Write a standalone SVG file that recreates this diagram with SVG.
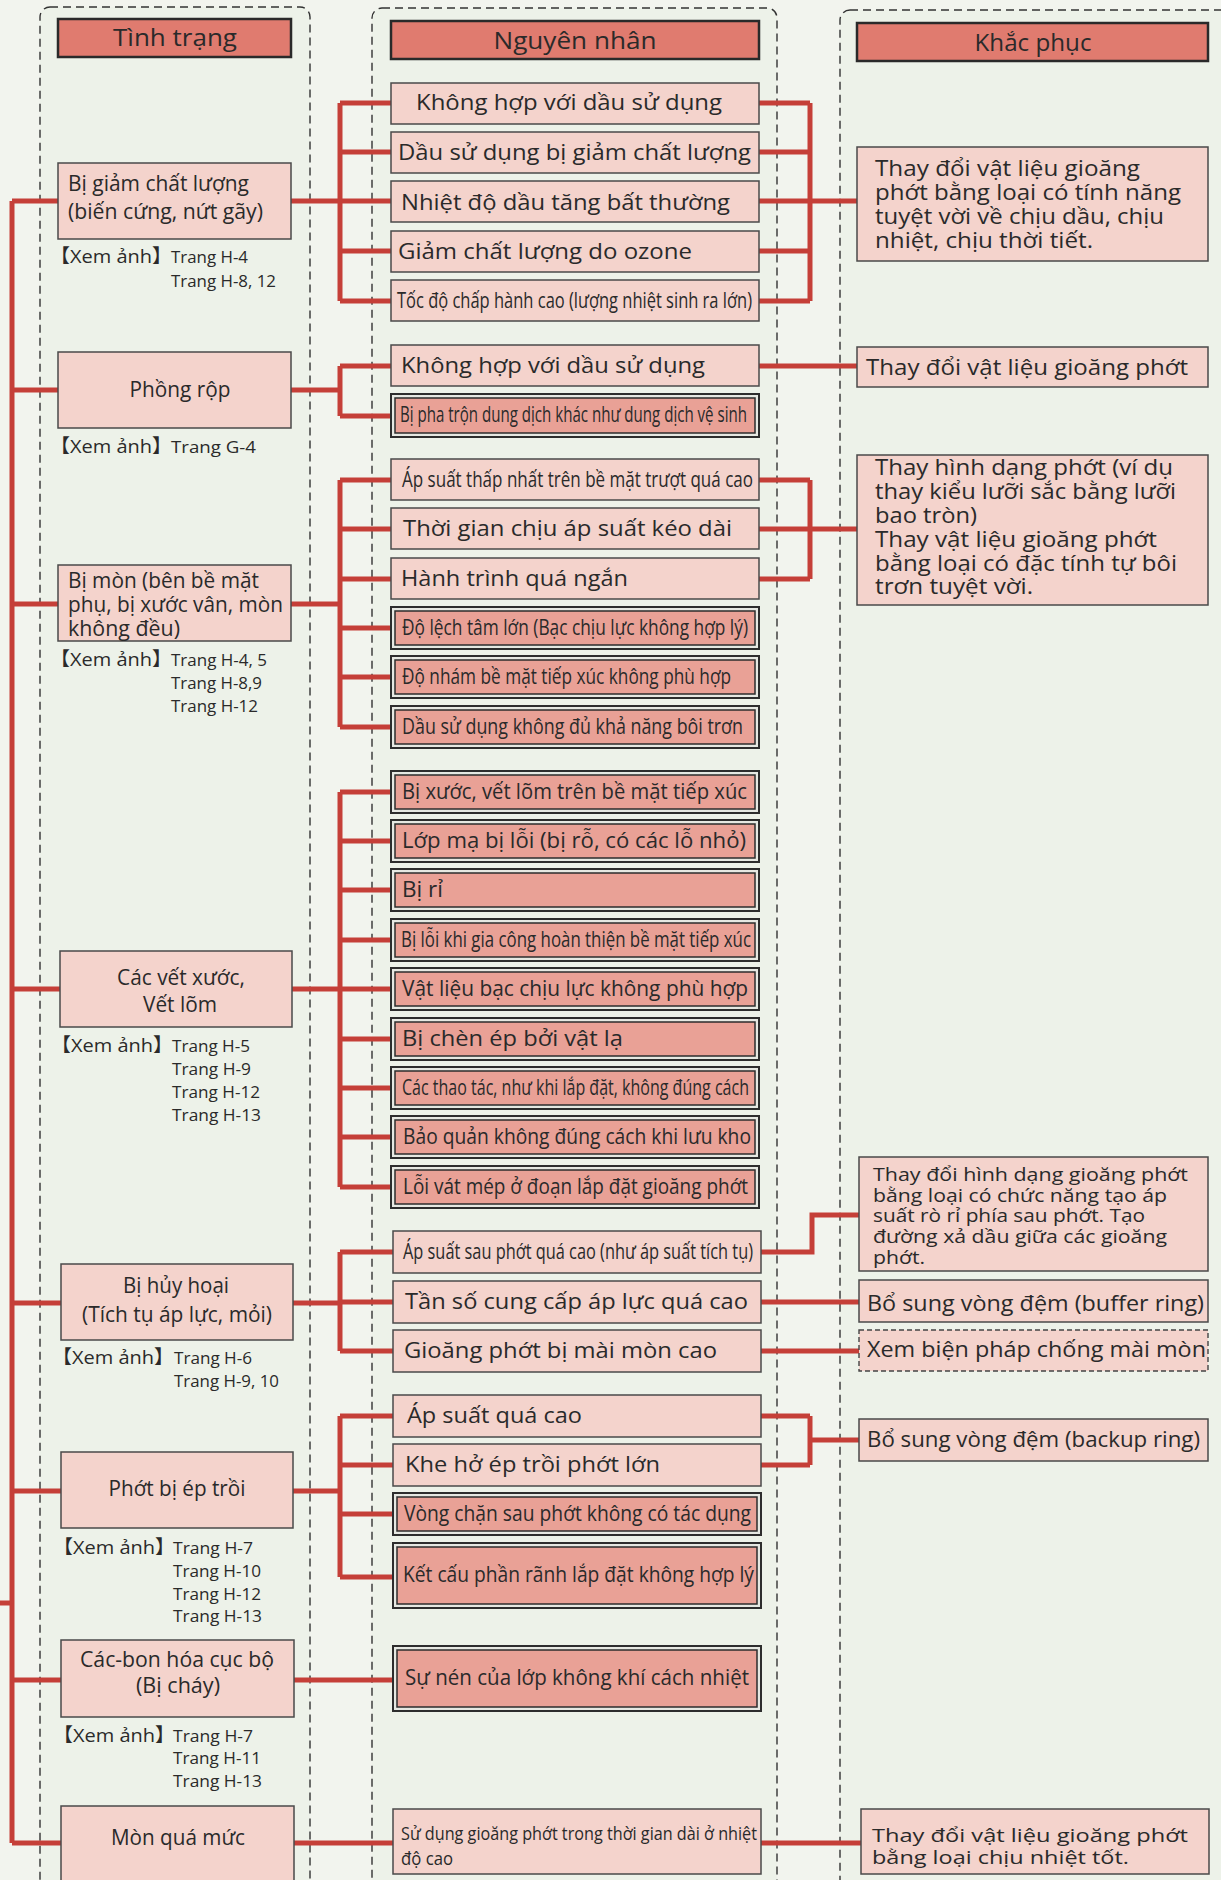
<svg xmlns="http://www.w3.org/2000/svg" width="1221" height="1880" viewBox="0 0 1221 1880">
<style>
.bg{fill:#f2f4ee}
.col{fill:#edf2e9;stroke:#333;stroke-width:1.4;stroke-dasharray:8 5}
.hdr{fill:#e07b6f;stroke:#2a2a2a;stroke-width:2.5}
.ht{font-family:"Open Sans","Liberation Sans",sans-serif;font-size:23px;fill:#2a2a2a;text-anchor:middle}
.nd{fill:#f4d3cc;stroke:#4a4a4a;stroke-width:1.5}
.dash{fill:#f4d3cc;stroke:#444;stroke-width:1.4;stroke-dasharray:5 3}
.dbo{fill:#e6e8e2;stroke:#2d2d2d;stroke-width:2}
.dbi{fill:#e9a196;stroke:#2d2d2d;stroke-width:1.5}
.t{font-family:"Open Sans","Noto Sans","Liberation Sans",sans-serif;font-size:21px;fill:#2a2a2a}
.tc{text-anchor:middle}
.s19{font-size:19px}
.s18{font-size:18px}
.s22{font-size:22px}
.r{font-family:"Open Sans","Noto Sans","Noto Sans CJK JP",sans-serif;font-size:19px;fill:#2a2a2a}
.rt{font-family:"Open Sans","Noto Sans",sans-serif;font-size:17px;fill:#2a2a2a}
.c{fill:none;stroke:#c53f38;stroke-width:5;stroke-linejoin:miter}
</style>
<rect class="bg" x="0" y="0" width="1221" height="1880"/>
<g id="columns">
<rect class="col" x="40" y="7" width="270" height="1900" rx="10"/>
<rect class="col" x="372" y="8" width="405" height="1900" rx="10"/>
<rect class="col" x="840" y="10" width="420" height="1900" rx="10"/>
</g>
<g id="headers">
<g id="h-tinh-trang"><rect class="hdr" x="58" y="19" width="233" height="38"/><text class="ht" x="175" y="46" textLength="124" lengthAdjust="spacingAndGlyphs">Tình trạng</text></g>
<g id="h-nguyen-nhan"><rect class="hdr" x="391" y="21" width="368" height="38"/><text class="ht" x="575" y="49" textLength="163" lengthAdjust="spacingAndGlyphs">Nguyên nhân</text></g>
<g id="h-khac-phuc"><rect class="hdr" x="857" y="23" width="351" height="38"/><text class="ht" x="1033" y="51" textLength="117" lengthAdjust="spacingAndGlyphs">Khắc phục</text></g>
</g>
<g id="connectors">
<path class="c" d="M12,201 V1843 M0,1603 H12"/>
<path class="c" d="M12,201 H58 M12,390 H58 M12,604 H58 M12,989 H60 M12,1303 H61 M12,1491 H61 M12,1680 H61 M12,1843 H61"/>
<path class="c" d="M291,201 H340 M340,103 V301 M340,103 H391 M340,152 H391 M340,201 H391 M340,251 H391 M340,301 H391"/>
<path class="c" d="M759,103 H810 M759,152 H810 M759,201 H810 M759,251 H810 M759,301 H810 M810,103 V301 M810,201 H857"/>
<path class="c" d="M291,390 H340 M340,366 V416 M340,366 H391 M340,416 H391 M759,366 H857"/>
<path class="c" d="M291,604 H340 M340,480 V727 M340,480 H391 M340,529 H391 M340,579 H391 M340,628 H391 M340,677 H391 M340,727 H391"/>
<path class="c" d="M759,480 H810 M759,529 H810 M759,579 H810 M810,480 V579 M810,529 H857"/>
<path class="c" d="M292,989 H340 M340,792 V1187 M340,792 H391 M340,841 H391 M340,890 H391 M340,940 H391 M340,989 H391 M340,1039 H391 M340,1088 H391 M340,1137 H391 M340,1187 H391"/>
<path class="c" d="M293,1303 H340 M340,1252 V1351 M340,1252 H393 M340,1302 H393 M340,1351 H393"/>
<path class="c" d="M761,1252 H812 V1215 H859 M761,1302 H859 M761,1351 H859"/>
<path class="c" d="M293,1491 H340 M340,1416 V1577 M340,1416 H393 M340,1465 H393 M340,1514 H393 M340,1577 H393"/>
<path class="c" d="M761,1416 H810 M761,1465 H810 M810,1416 V1465 M810,1440 H859"/>
<path class="c" d="M294,1680 H393 M294,1843 H393 M761,1843 H861"/>
</g>
<g id="n-giam-chat-luong"><rect class="nd" x="58" y="163" width="233" height="76"/>
<text class="t" x="68" y="191" textLength="181" lengthAdjust="spacingAndGlyphs">Bị giảm chất lượng</text>
<text class="t" x="68" y="219" textLength="195" lengthAdjust="spacingAndGlyphs">(biến cứng, nứt gãy)</text>
<text class="r" x="50" y="263" textLength="122" lengthAdjust="spacingAndGlyphs">【Xem ảnh】</text>
<text class="rt" x="171" y="263" textLength="77" lengthAdjust="spacingAndGlyphs">Trang H-4</text>
<text class="rt" x="171" y="287" textLength="105" lengthAdjust="spacingAndGlyphs">Trang H-8, 12</text></g>
<g id="n-phong-rop"><rect class="nd" x="58" y="352" width="233" height="76"/>
<text class="t tc" x="180" y="397" textLength="101" lengthAdjust="spacingAndGlyphs">Phồng rộp</text>
<text class="r" x="50" y="453" textLength="122" lengthAdjust="spacingAndGlyphs">【Xem ảnh】</text>
<text class="rt" x="171" y="453" textLength="85" lengthAdjust="spacingAndGlyphs">Trang G-4</text></g>
<g id="n-bi-mon"><rect class="nd" x="58" y="565" width="233" height="76"/>
<text class="t" x="68" y="588" textLength="191" lengthAdjust="spacingAndGlyphs">Bị mòn (bên bề mặt</text>
<text class="t" x="68" y="612" textLength="215" lengthAdjust="spacingAndGlyphs">phụ, bị xước vân, mòn</text>
<text class="t" x="68" y="636" textLength="112" lengthAdjust="spacingAndGlyphs">không đều)</text>
<text class="r" x="50" y="666" textLength="122" lengthAdjust="spacingAndGlyphs">【Xem ảnh】</text>
<text class="rt" x="171" y="666" textLength="96" lengthAdjust="spacingAndGlyphs">Trang H-4, 5</text>
<text class="rt" x="171" y="689" textLength="91" lengthAdjust="spacingAndGlyphs">Trang H-8,9</text>
<text class="rt" x="171" y="712" textLength="87" lengthAdjust="spacingAndGlyphs">Trang H-12</text></g>
<g id="n-vet-xuoc"><rect class="nd" x="60" y="951" width="232" height="76"/>
<text class="t tc" x="181" y="985" textLength="128" lengthAdjust="spacingAndGlyphs">Các vết xước,</text>
<text class="t tc" x="180" y="1012" textLength="74" lengthAdjust="spacingAndGlyphs">Vết lõm</text>
<text class="r" x="51" y="1052" textLength="122" lengthAdjust="spacingAndGlyphs">【Xem ảnh】</text>
<text class="rt" x="172" y="1052" textLength="78" lengthAdjust="spacingAndGlyphs">Trang H-5</text>
<text class="rt" x="172" y="1075" textLength="79" lengthAdjust="spacingAndGlyphs">Trang H-9</text>
<text class="rt" x="172" y="1098" textLength="88" lengthAdjust="spacingAndGlyphs">Trang H-12</text>
<text class="rt" x="172" y="1121" textLength="89" lengthAdjust="spacingAndGlyphs">Trang H-13</text></g>
<g id="n-huy-hoai"><rect class="nd" x="61" y="1264" width="232" height="76"/>
<text class="t tc" x="176" y="1293" textLength="106" lengthAdjust="spacingAndGlyphs">Bị hủy hoại</text>
<text class="t tc" x="177" y="1322" textLength="190" lengthAdjust="spacingAndGlyphs">(Tích tụ áp lực, mỏi)</text>
<text class="r" x="52" y="1364" textLength="122" lengthAdjust="spacingAndGlyphs">【Xem ảnh】</text>
<text class="rt" x="174" y="1364" textLength="78" lengthAdjust="spacingAndGlyphs">Trang H-6</text>
<text class="rt" x="174" y="1387" textLength="105" lengthAdjust="spacingAndGlyphs">Trang H-9, 10</text></g>
<g id="n-ep-troi"><rect class="nd" x="61" y="1452" width="232" height="76"/>
<text class="t tc" x="177" y="1496" textLength="137" lengthAdjust="spacingAndGlyphs">Phớt bị ép trồi</text>
<text class="r" x="53" y="1554" textLength="122" lengthAdjust="spacingAndGlyphs">【Xem ảnh】</text>
<text class="rt" x="173" y="1554" textLength="80" lengthAdjust="spacingAndGlyphs">Trang H-7</text>
<text class="rt" x="173" y="1577" textLength="88" lengthAdjust="spacingAndGlyphs">Trang H-10</text>
<text class="rt" x="173" y="1600" textLength="88" lengthAdjust="spacingAndGlyphs">Trang H-12</text>
<text class="rt" x="173" y="1622" textLength="89" lengthAdjust="spacingAndGlyphs">Trang H-13</text></g>
<g id="n-cacbon-hoa"><rect class="nd" x="61" y="1640" width="233" height="77"/>
<text class="t tc" x="177" y="1667" textLength="194" lengthAdjust="spacingAndGlyphs">Các-bon hóa cục bộ</text>
<text class="t tc" x="178" y="1693" textLength="84" lengthAdjust="spacingAndGlyphs">(Bị cháy)</text>
<text class="r" x="53" y="1742" textLength="122" lengthAdjust="spacingAndGlyphs">【Xem ảnh】</text>
<text class="rt" x="173" y="1742" textLength="80" lengthAdjust="spacingAndGlyphs">Trang H-7</text>
<text class="rt" x="173" y="1764" textLength="88" lengthAdjust="spacingAndGlyphs">Trang H-11</text>
<text class="rt" x="173" y="1787" textLength="89" lengthAdjust="spacingAndGlyphs">Trang H-13</text></g>
<g id="n-mon-qua-muc"><rect class="nd" x="61" y="1806" width="233" height="90"/>
<text class="t tc" x="178" y="1845" textLength="134" lengthAdjust="spacingAndGlyphs">Mòn quá mức</text></g>
<g id="causes-1">
<g id="c1-1"><rect class="nd" x="391" y="83" width="368" height="41"/><text class="t" x="416" y="110" textLength="306" lengthAdjust="spacingAndGlyphs">Không hợp với dầu sử dụng</text></g>
<g id="c1-2"><rect class="nd" x="391" y="132" width="368" height="41"/><text class="t" x="398" y="160" textLength="353" lengthAdjust="spacingAndGlyphs">Dầu sử dụng bị giảm chất lượng</text></g>
<g id="c1-3"><rect class="nd" x="391" y="181" width="368" height="41"/><text class="t" x="401" y="210" textLength="329" lengthAdjust="spacingAndGlyphs">Nhiệt độ dầu tăng bất thường</text></g>
<g id="c1-4"><rect class="nd" x="391" y="231" width="368" height="41"/><text class="t" x="398" y="259" textLength="294" lengthAdjust="spacingAndGlyphs">Giảm chất lượng do ozone</text></g>
<g id="c1-5"><rect class="nd" x="391" y="280" width="368" height="41"/><text class="t" x="397" y="308" textLength="355" lengthAdjust="spacingAndGlyphs">Tốc độ chấp hành cao (lượng nhiệt sinh ra lớn)</text></g>
</g>
<g id="causes-2">
<g id="c2-1"><rect class="nd" x="391" y="345" width="368" height="41"/><text class="t" x="401" y="373" textLength="304" lengthAdjust="spacingAndGlyphs">Không hợp với dầu sử dụng</text></g>
<g id="c2-2"><rect class="dbo" x="391" y="394" width="368" height="43"/><rect class="dbi" x="395" y="398" width="360" height="35"/><text class="t" x="400" y="422" textLength="347" lengthAdjust="spacingAndGlyphs">Bị pha trộn dung dịch khác như dung dịch vệ sinh</text></g>
</g>
<g id="causes-3">
<g id="c3-1"><rect class="nd" x="391" y="459" width="368" height="41"/><text class="t" x="402" y="487" textLength="351" lengthAdjust="spacingAndGlyphs">Áp suất thấp nhất trên bề mặt trượt quá cao</text></g>
<g id="c3-2"><rect class="nd" x="391" y="508" width="368" height="41"/><text class="t" x="403" y="536" textLength="329" lengthAdjust="spacingAndGlyphs">Thời gian chịu áp suất kéo dài</text></g>
<g id="c3-3"><rect class="nd" x="391" y="558" width="368" height="41"/><text class="t" x="401" y="586" textLength="227" lengthAdjust="spacingAndGlyphs">Hành trình quá ngắn</text></g>
<g id="c3-4"><rect class="dbo" x="391" y="607" width="368" height="42"/><rect class="dbi" x="395" y="611" width="360" height="34"/><text class="t" x="402" y="635" textLength="346" lengthAdjust="spacingAndGlyphs">Độ lệch tâm lớn (Bạc chịu lực không hợp lý)</text></g>
<g id="c3-5"><rect class="dbo" x="391" y="656" width="368" height="42"/><rect class="dbi" x="395" y="660" width="360" height="34"/><text class="t" x="402" y="684" textLength="329" lengthAdjust="spacingAndGlyphs">Độ nhám bề mặt tiếp xúc không phù hợp</text></g>
<g id="c3-6"><rect class="dbo" x="391" y="706" width="368" height="42"/><rect class="dbi" x="395" y="710" width="360" height="34"/><text class="t" x="402" y="734" textLength="341" lengthAdjust="spacingAndGlyphs">Dầu sử dụng không đủ khả năng bôi trơn</text></g>
</g>
<g id="causes-4">
<g id="c4-1"><rect class="dbo" x="391" y="771" width="368" height="42"/><rect class="dbi" x="395" y="775" width="360" height="34"/><text class="t" x="402" y="799" textLength="345" lengthAdjust="spacingAndGlyphs">Bị xước, vết lõm trên bề mặt tiếp xúc</text></g>
<g id="c4-2"><rect class="dbo" x="391" y="820" width="368" height="42"/><rect class="dbi" x="395" y="824" width="360" height="34"/><text class="t" x="402" y="848" textLength="344" lengthAdjust="spacingAndGlyphs">Lớp mạ bị lỗi (bị rỗ, có các lỗ nhỏ)</text></g>
<g id="c4-3"><rect class="dbo" x="391" y="869" width="368" height="42"/><rect class="dbi" x="395" y="873" width="360" height="34"/><text class="t" x="402" y="897" textLength="41" lengthAdjust="spacingAndGlyphs">Bị rỉ</text></g>
<g id="c4-4"><rect class="dbo" x="391" y="919" width="368" height="42"/><rect class="dbi" x="395" y="923" width="360" height="34"/><text class="t" x="401" y="947" textLength="350" lengthAdjust="spacingAndGlyphs">Bị lỗi khi gia công hoàn thiện bề mặt tiếp xúc</text></g>
<g id="c4-5"><rect class="dbo" x="391" y="968" width="368" height="42"/><rect class="dbi" x="395" y="972" width="360" height="34"/><text class="t" x="402" y="996" textLength="346" lengthAdjust="spacingAndGlyphs">Vật liệu bạc chịu lực không phù hợp</text></g>
<g id="c4-6"><rect class="dbo" x="391" y="1018" width="368" height="42"/><rect class="dbi" x="395" y="1022" width="360" height="34"/><text class="t" x="402" y="1046" textLength="221" lengthAdjust="spacingAndGlyphs">Bị chèn ép bởi vật lạ</text></g>
<g id="c4-7"><rect class="dbo" x="391" y="1067" width="368" height="42"/><rect class="dbi" x="395" y="1071" width="360" height="34"/><text class="t" x="402" y="1095" textLength="347" lengthAdjust="spacingAndGlyphs">Các thao tác, như khi lắp đặt, không đúng cách</text></g>
<g id="c4-8"><rect class="dbo" x="391" y="1116" width="368" height="42"/><rect class="dbi" x="395" y="1120" width="360" height="34"/><text class="t" x="403" y="1144" textLength="348" lengthAdjust="spacingAndGlyphs">Bảo quản không đúng cách khi lưu kho</text></g>
<g id="c4-9"><rect class="dbo" x="391" y="1166" width="368" height="42"/><rect class="dbi" x="395" y="1170" width="360" height="34"/><text class="t" x="403" y="1194" textLength="345" lengthAdjust="spacingAndGlyphs">Lỗi vát mép ở đoạn lắp đặt gioăng phớt</text></g>
</g>
<g id="causes-5">
<g id="c5-1"><rect class="nd" x="393" y="1231" width="368" height="42"/><text class="t" x="403" y="1259" textLength="350" lengthAdjust="spacingAndGlyphs">Áp suất sau phớt quá cao (như áp suất tích tụ)</text></g>
<g id="c5-2"><rect class="nd" x="393" y="1281" width="368" height="42"/><text class="t" x="405" y="1309" textLength="343" lengthAdjust="spacingAndGlyphs">Tần số cung cấp áp lực quá cao</text></g>
<g id="c5-3"><rect class="nd" x="393" y="1330" width="368" height="42"/><text class="t" x="404" y="1358" textLength="313" lengthAdjust="spacingAndGlyphs">Gioăng phớt bị mài mòn cao</text></g>
</g>
<g id="causes-6">
<g id="c6-1"><rect class="nd" x="393" y="1395" width="368" height="42"/><text class="t" x="407" y="1423" textLength="175" lengthAdjust="spacingAndGlyphs">Áp suất quá cao</text></g>
<g id="c6-2"><rect class="nd" x="393" y="1444" width="368" height="42"/><text class="t" x="405" y="1472" textLength="255" lengthAdjust="spacingAndGlyphs">Khe hở ép trồi phớt lớn</text></g>
<g id="c6-3"><rect class="dbo" x="393" y="1493" width="368" height="42"/><rect class="dbi" x="397" y="1497" width="360" height="34"/><text class="t" x="404" y="1521" textLength="347" lengthAdjust="spacingAndGlyphs">Vòng chặn sau phớt không có tác dụng</text></g>
<g id="c6-4"><rect class="dbo" x="393" y="1543" width="368" height="65"/><rect class="dbi" x="397" y="1547" width="360" height="57"/><text class="t" x="403" y="1582" textLength="351" lengthAdjust="spacingAndGlyphs">Kết cấu phần rãnh lắp đặt không hợp lý</text></g>
</g>
<g id="causes-7">
<g id="c7-1"><rect class="dbo" x="393" y="1646" width="368" height="65"/><rect class="dbi" x="397" y="1650" width="360" height="57"/><text class="t" x="405" y="1685" textLength="344" lengthAdjust="spacingAndGlyphs">Sự nén của lớp không khí cách nhiệt</text></g>
</g>
<g id="causes-8">
<g id="c8-1"><rect class="nd" x="393" y="1809" width="368" height="65"/><text class="t s18" x="401" y="1840" textLength="356" lengthAdjust="spacingAndGlyphs">Sử dụng gioăng phớt trong thời gian dài ở nhiệt</text><text class="t s18" x="401" y="1865" textLength="52" lengthAdjust="spacingAndGlyphs">độ cao</text></g>
</g>
<g id="s1"><rect class="nd" x="857" y="147" width="351" height="114"/>
<text class="t" x="875" y="176" textLength="265" lengthAdjust="spacingAndGlyphs">Thay đổi vật liệu gioăng</text>
<text class="t" x="875" y="200" textLength="306" lengthAdjust="spacingAndGlyphs">phớt bằng loại có tính năng</text>
<text class="t" x="875" y="224" textLength="289" lengthAdjust="spacingAndGlyphs">tuyệt vời về chịu dầu, chịu</text>
<text class="t" x="875" y="248" textLength="218" lengthAdjust="spacingAndGlyphs">nhiệt, chịu thời tiết.</text></g>
<g id="s2"><rect class="nd" x="857" y="347" width="351" height="40"/>
<text class="t" x="866" y="375" textLength="322" lengthAdjust="spacingAndGlyphs">Thay đổi vật liệu gioăng phớt</text></g>
<g id="s3"><rect class="nd" x="857" y="455" width="351" height="150"/>
<text class="t" x="875" y="475" textLength="298" lengthAdjust="spacingAndGlyphs">Thay hình dạng phớt (ví dụ</text>
<text class="t" x="875" y="499" textLength="301" lengthAdjust="spacingAndGlyphs">thay kiểu lưỡi sắc bằng lưỡi</text>
<text class="t" x="875" y="523" textLength="102" lengthAdjust="spacingAndGlyphs">bao tròn)</text>
<text class="t" x="875" y="547" textLength="282" lengthAdjust="spacingAndGlyphs">Thay vật liệu gioăng phớt</text>
<text class="t" x="875" y="571" textLength="302" lengthAdjust="spacingAndGlyphs">bằng loại có đặc tính tự bôi</text>
<text class="t" x="875" y="594" textLength="158" lengthAdjust="spacingAndGlyphs">trơn tuyệt vời.</text></g>
<g id="s5a"><rect class="nd" x="859" y="1157" width="349" height="114"/>
<text class="t s18" x="873" y="1181" textLength="315" lengthAdjust="spacingAndGlyphs">Thay đổi hình dạng gioăng phớt</text>
<text class="t s18" x="873" y="1202" textLength="294" lengthAdjust="spacingAndGlyphs">bằng loại có chức năng tạo áp</text>
<text class="t s18" x="873" y="1222" textLength="272" lengthAdjust="spacingAndGlyphs">suất rò rỉ phía sau phớt. Tạo</text>
<text class="t s18" x="873" y="1243" textLength="294" lengthAdjust="spacingAndGlyphs">đường xả dầu giữa các gioăng</text>
<text class="t s18" x="873" y="1264" textLength="52" lengthAdjust="spacingAndGlyphs">phớt.</text></g>
<g id="s5b"><rect class="nd" x="859" y="1280" width="349" height="42"/>
<text class="t s22" x="867" y="1311" textLength="337" lengthAdjust="spacingAndGlyphs">Bổ sung vòng đệm (buffer ring)</text></g>
<g id="s5c"><rect class="dash" x="859" y="1330" width="349" height="41"/>
<text class="t s22" x="867" y="1357" textLength="339" lengthAdjust="spacingAndGlyphs">Xem biện pháp chống mài mòn</text></g>
<g id="s6"><rect class="nd" x="859" y="1419" width="349" height="42"/>
<text class="t s22" x="867" y="1447" textLength="333" lengthAdjust="spacingAndGlyphs">Bổ sung vòng đệm (backup ring)</text></g>
<g id="s8"><rect class="nd" x="861" y="1809" width="348" height="65"/>
<text class="t s19" x="872" y="1842" textLength="316" lengthAdjust="spacingAndGlyphs">Thay đổi vật liệu gioăng phớt</text>
<text class="t s19" x="872" y="1864" textLength="257" lengthAdjust="spacingAndGlyphs">bằng loại chịu nhiệt tốt.</text></g>
</svg>
